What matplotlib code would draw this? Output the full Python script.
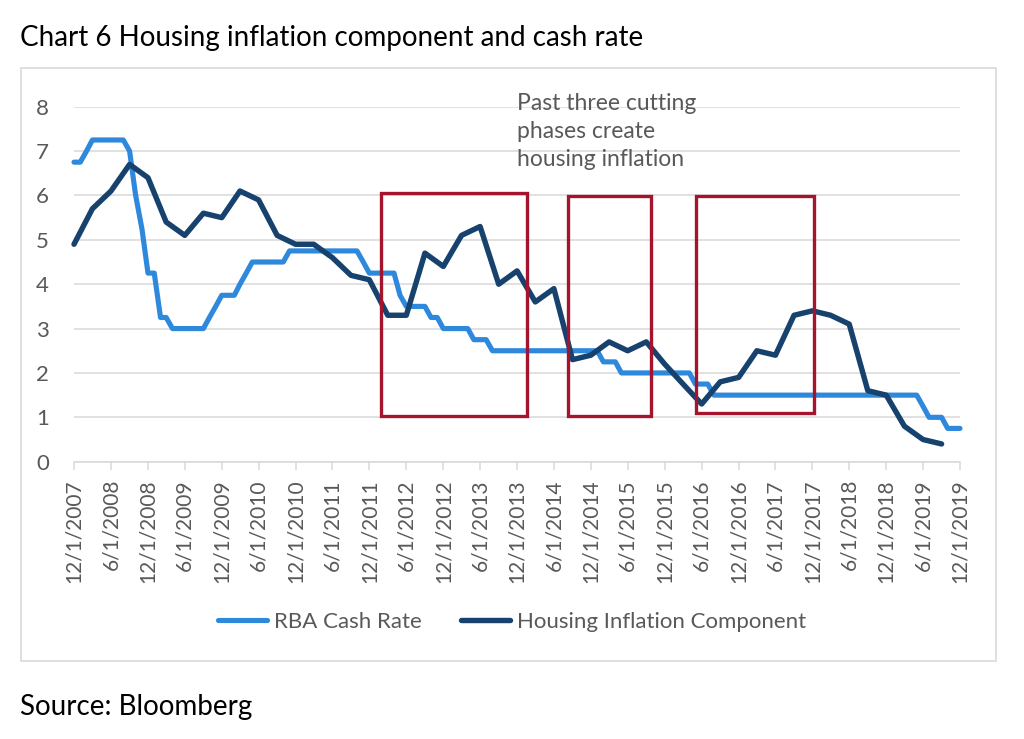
import pandas as pd
import numpy as np
import matplotlib
matplotlib.use("Agg")
import matplotlib.pyplot as plt
import matplotlib.dates as mdates
from matplotlib.patches import Rectangle
from matplotlib.ticker import FuncFormatter

plt.rcParams['font.family'] = ['Lato', 'DejaVu Sans']

# ----------------------------------------------------------
# Data
# RBA cash rate, monthly, 12/2007 .. 12/2019
cash_rate = [
    6.75,
    6.75, 7.00, 7.25, 7.25, 7.25, 7.25, 7.25, 7.25, 7.00, 6.00, 5.25, 4.25,  # 2008
    4.25, 3.25, 3.25, 3.00, 3.00, 3.00, 3.00, 3.00, 3.00, 3.25, 3.50, 3.75,  # 2009
    3.75, 3.75, 4.00, 4.25, 4.50, 4.50, 4.50, 4.50, 4.50, 4.50, 4.75, 4.75,  # 2010
    4.75, 4.75, 4.75, 4.75, 4.75, 4.75, 4.75, 4.75, 4.75, 4.75, 4.50, 4.25,  # 2011
    4.25, 4.25, 4.25, 4.25, 3.75, 3.50, 3.50, 3.50, 3.50, 3.25, 3.25, 3.00,  # 2012
    3.00, 3.00, 3.00, 3.00, 2.75, 2.75, 2.75, 2.50, 2.50, 2.50, 2.50, 2.50,  # 2013
    2.50, 2.50, 2.50, 2.50, 2.50, 2.50, 2.50, 2.50, 2.50, 2.50, 2.50, 2.50,  # 2014
    2.50, 2.25, 2.25, 2.25, 2.00, 2.00, 2.00, 2.00, 2.00, 2.00, 2.00, 2.00,  # 2015
    2.00, 2.00, 2.00, 2.00, 1.75, 1.75, 1.75, 1.50, 1.50, 1.50, 1.50, 1.50,  # 2016
    1.50, 1.50, 1.50, 1.50, 1.50, 1.50, 1.50, 1.50, 1.50, 1.50, 1.50, 1.50,  # 2017
    1.50, 1.50, 1.50, 1.50, 1.50, 1.50, 1.50, 1.50, 1.50, 1.50, 1.50, 1.50,  # 2018
    1.50, 1.50, 1.50, 1.50, 1.50, 1.25, 1.00, 1.00, 1.00, 0.75, 0.75, 0.75,  # 2019
]
cash_dates = pd.date_range("2007-12-01", periods=len(cash_rate), freq="MS")

# Housing inflation component, quarterly, 12/2007 .. 9/2019
housing = [
    4.9,
    5.7, 6.1, 6.7, 6.4,   # 2008
    5.4, 5.1, 5.6, 5.5,   # 2009
    6.1, 5.9, 5.1, 4.9,   # 2010
    4.9, 4.6, 4.2, 4.1,   # 2011
    3.3, 3.3, 4.7, 4.4,   # 2012
    5.1, 5.3, 4.0, 4.3,   # 2013
    3.6, 3.9, 2.3, 2.4,   # 2014
    2.7, 2.5, 2.7, 2.2,   # 2015
    1.75, 1.3, 1.8, 1.9,  # 2016
    2.5, 2.4, 3.3, 3.4,   # 2017
    3.3, 3.1, 1.6, 1.5,   # 2018
    0.8, 0.5, 0.4,        # 2019
]
housing_dates = pd.date_range("2007-12-01", periods=len(housing), freq="3MS")

# cutting phases highlighted by the red boxes: (start, end, low, high)
phases = [
    ("2012-01-26", "2014-01-18", 1.03, 6.05),
    ("2014-08-12", "2015-09-23", 1.03, 5.98),
    ("2016-05-05", "2017-12-10", 1.09, 5.98),
]

title = "Chart 6 Housing inflation component and cash rate"
note = "Past three cutting\nphases create\nhousing inflation"
source = "Source: Bloomberg"

# ----------------------------------------------------------
W, H = 1024, 739
light_blue = '#2E88DC'
dark_blue = '#17426E'
box_red = '#A4142D'
grey_txt = '#595959'
grey_line = '#D9D9D9'


def fx(px):
    return px / W


def fy(py):
    return 1 - py / H


fig = plt.figure(figsize=(W / 100, H / 100), dpi=100)
ax = fig.add_axes([fx(74), fy(461.7), fx(960) - fx(74), (461.7 - 106.7) / H])

ax.plot(cash_dates, cash_rate, color=light_blue, lw=3.7, label="RBA Cash Rate",
        solid_capstyle='round', solid_joinstyle='round', clip_on=False, zorder=3)
ax.plot(housing_dates, housing, color=dark_blue, lw=3.9, label="Housing Inflation Component",
        solid_capstyle='round', solid_joinstyle='round', clip_on=False, zorder=4)

for start, end, low, high in phases:
    x0 = mdates.date2num(pd.Timestamp(start))
    x1 = mdates.date2num(pd.Timestamp(end))
    ax.add_patch(Rectangle((x0, low), x1 - x0, high - low, fill=False,
                           ec=box_red, lw=2.4, zorder=5))

ax.set_xlim(pd.Timestamp("2007-12-01"), pd.Timestamp("2019-12-01"))
ax.set_ylim(0, 8)
ax.set_yticks(np.arange(0, 9, 1))
ax.grid(axis='y', color=grey_line, lw=1.1)
ax.set_axisbelow(True)

ax.xaxis.set_major_locator(mdates.MonthLocator(bymonth=[6, 12], bymonthday=1))
ax.xaxis.set_major_formatter(FuncFormatter(
    lambda v, pos: "{}/{}/{}".format(mdates.num2date(v).month, mdates.num2date(v).day,
                                     mdates.num2date(v).year)))
ax.tick_params(axis='x', colors=grey_line, labelcolor=grey_txt, labelsize=15,
               length=6, width=1.1, pad=6.5, labelrotation=90)
ax.tick_params(axis='y', length=0, labelcolor=grey_txt, labelsize=16, pad=18)

for side in ['top', 'right', 'left']:
    ax.spines[side].set_visible(False)
ax.spines['bottom'].set_color(grey_line)
ax.spines['bottom'].set_linewidth(1.1)

fig.legend(loc='center', bbox_to_anchor=(fx(512), fy(622)), ncol=2, frameon=False,
           fontsize=16, handlelength=2.2, handletextpad=0.3, columnspacing=1.8,
           labelcolor=grey_txt)

fig.text(fx(517), fy(93), note, fontsize=16.5, color=grey_txt, va='top', ha='left',
         linespacing=1.4)
fig.text(fx(20), fy(38), title, fontsize=20, color='black', va='center', ha='left')
fig.text(fx(20), fy(707), source, fontsize=20, color='black', va='center', ha='left')

fig.patches.append(Rectangle((fx(21), fy(661)), fx(996) - fx(21), (661 - 68) / H,
                             transform=fig.transFigure, fill=False, ec=grey_line, lw=1.2))

fig.savefig("out.png", dpi=100)
